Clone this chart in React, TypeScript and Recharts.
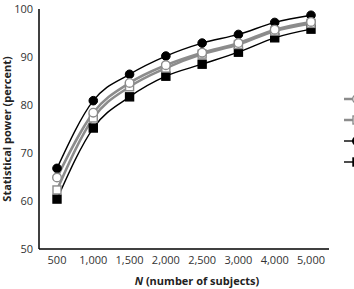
import { LineChart, Line, XAxis, YAxis, Legend } from "recharts";

const sampleSizes = ["500", "1,000", "1,500", "2,000", "2,500", "3,000", "4,000", "5,000"];
const filledCircle = [66.8, 80.9, 86.4, 90.2, 92.9, 94.7, 97.2, 98.7];
const openCircle = [64.9, 78.4, 84.6, 88.3, 90.9, 92.9, 95.7, 97.3];
const openSquare = [62.3, 77.3, 83.8, 87.7, 90.6, 92.6, 95.4, 97.0];
const filledSquare = [60.4, 75.2, 81.7, 86.0, 88.5, 91.0, 94.0, 95.8];
const yTicks = [50, 60, 70, 80, 90, 100];

const data = sampleSizes.map((n, i) => ({
  n,
  fc: filledCircle[i],
  oc: openCircle[i],
  os: openSquare[i],
  fs: filledSquare[i],
}));

const GRAY = "#8c8c8c";
const FONT = "'Open Sans', sans-serif";

// eslint-disable-next-line @typescript-eslint/no-explicit-any
const Square = ({ cx, cy, fill, stroke, index }: any) => (
  <rect key={index} x={cx - 4} y={cy - 4} width={8} height={8} fill={fill} stroke={stroke} strokeWidth={1.4} />
);

const legendItems = [
  { color: GRAY, w: 2.5, shape: "circle", fill: "#fff" },
  { color: GRAY, w: 2.5, shape: "square", fill: "#fff" },
  { color: "#000", w: 1.4, shape: "circle", fill: "#000" },
  { color: "#000", w: 1.4, shape: "square", fill: "#000" },
];

const LegendStubs = () => (
  <svg width={30} height={80} style={{ display: "block" }}>
    {legendItems.map((it, i) => {
      const y = 7 + i * 21;
      return (
        <g key={i}>
          <line x1={2} x2={14} y1={y} y2={y} stroke={it.color} strokeWidth={it.w} />
          {it.shape === "circle" ? (
            <circle cx={15} cy={y} r={4.3} fill={it.fill} stroke={it.color} strokeWidth={1.4} />
          ) : (
            <rect x={11} y={y - 4} width={8} height={8} fill={it.fill} stroke={it.color} strokeWidth={1.4} />
          )}
        </g>
      );
    })}
  </svg>
);

export default function App() {
  return (
    <div style={{ position: "absolute", left: 0, top: 0, width: 354, height: 289, background: "#fff", overflow: "hidden" }}>
      <LineChart width={354} height={289} data={data} margin={{ top: 9, right: 25, left: 0, bottom: 10 }}>
        <XAxis
          dataKey="n"
          height={30}
          padding={{ left: 18, right: 18 }}
          tickLine={false}
          tickSize={4}
          tickMargin={3}
          axisLine={{ stroke: "#000", strokeWidth: 1.5 }}
          tick={{ fill: "#333", fontSize: 11, fontFamily: FONT }}
          label={{
            content: () => (
              <text x={197} y={285} textAnchor="middle" fontFamily={FONT} fontSize={11} fontWeight={700} fill="#222">
                <tspan fontStyle="italic">N</tspan> (number of subjects)
              </text>
            ),
          }}
        />
        <YAxis
          width={39}
          domain={[50, 100]}
          ticks={yTicks}
          tickLine={false}
          tickSize={4}
          tickMargin={2}
          axisLine={{ stroke: "#000", strokeWidth: 1.5 }}
          tick={{ fill: "#333", fontSize: 11, fontFamily: FONT }}
          label={{
            value: "Statistical power (percent)",
            angle: -90,
            position: "center",
            dx: -12,
            style: { fontFamily: FONT, fontSize: 11, fontWeight: 700, fill: "#222", textAnchor: "middle" },
          }}
        />
        <Legend
          layout="vertical"
          align="center"
          verticalAlign="middle"
          wrapperStyle={{ left: 342, top: 92, width: 30 }}
          content={() => <LegendStubs />}
        />
        <Line type="monotone" dataKey="fs" stroke="#000" strokeWidth={1.4} isAnimationActive={false}
          dot={<Square fill="#000" stroke="#000" />} />
        <Line type="monotone" dataKey="fc" stroke="#000" strokeWidth={1.4} isAnimationActive={false}
          dot={{ r: 4.3, fill: "#000", stroke: "#000", strokeWidth: 1 }} />
        <Line type="monotone" dataKey="os" stroke={GRAY} strokeWidth={2.5} isAnimationActive={false}
          dot={<Square fill="#fff" stroke={GRAY} />} />
        <Line type="monotone" dataKey="oc" stroke={GRAY} strokeWidth={2.5} isAnimationActive={false}
          dot={{ r: 4.3, fill: "#fff", stroke: GRAY, strokeWidth: 1.4 }} />
      </LineChart>
    </div>
  );
}
